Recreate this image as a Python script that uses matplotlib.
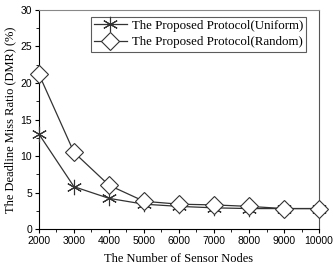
import matplotlib
matplotlib.use("Agg")
from matplotlib import pyplot as plt
from matplotlib.ticker import MultipleLocator

nodes = [2000, 3000, 4000, 5000, 6000, 7000, 8000, 9000, 10000]
dmr_uniform = [13.0, 5.8, 4.2, 3.4, 3.1, 2.9, 2.8, 2.8, 2.8]
dmr_random = [21.2, 10.5, 6.0, 3.8, 3.4, 3.3, 3.1, 2.8, 2.8]
labels = ["The Proposed Protocol(Uniform)", "The Proposed Protocol(Random)"]

serif = "Liberation Serif"
sans = "Liberation Sans"

fig = plt.figure(figsize=(3.33, 2.68), dpi=100)
ax = fig.add_axes([0.117, 0.1455, 0.841, 0.8172])

ax.plot(nodes, dmr_uniform, color="#333333", lw=0.9, marker=(6, 2, 0),
        markersize=11, markeredgewidth=0.8, label=labels[0], clip_on=False, zorder=3)
ax.plot(nodes, dmr_random, color="#333333", lw=0.9, marker="D",
        markersize=9.5, markerfacecolor="white", markeredgewidth=0.8, label=labels[1],
        clip_on=False, zorder=3)

ax.set_xlim(2000, 10000)
ax.set_ylim(0, 30)
ax.xaxis.set_major_locator(MultipleLocator(1000))
ax.xaxis.set_minor_locator(MultipleLocator(500))
ax.yaxis.set_major_locator(MultipleLocator(5))
ax.yaxis.set_minor_locator(MultipleLocator(2.5))
ax.tick_params(which="major", direction="out", length=3, width=0.8, labelsize=7.5, pad=2)
ax.tick_params(which="minor", direction="out", length=2, width=0.6)
for t in ax.get_xticklabels() + ax.get_yticklabels():
    t.set_fontfamily(sans)

for s in ax.spines.values():
    s.set_linewidth(0.8)
ax.spines["top"].set_color("#888888")
ax.spines["right"].set_color("#555555")

ax.set_xlabel("The Number of Sensor Nodes", fontfamily=serif, fontsize=9, labelpad=5)
ax.set_ylabel("The Deadline Miss Ratio (DMR) (%)", fontfamily=serif, fontsize=9, labelpad=3)

leg = ax.legend(loc="upper right", bbox_to_anchor=(0.955, 0.97),
                prop={"family": serif, "size": 9.3}, frameon=True,
                fancybox=False, edgecolor="#333333", borderpad=0.25, handlelength=2.5,
                handletextpad=0.4, labelspacing=0.35, borderaxespad=0.0)
leg.get_frame().set_linewidth(0.8)

fig.savefig("out.png", dpi=100)
